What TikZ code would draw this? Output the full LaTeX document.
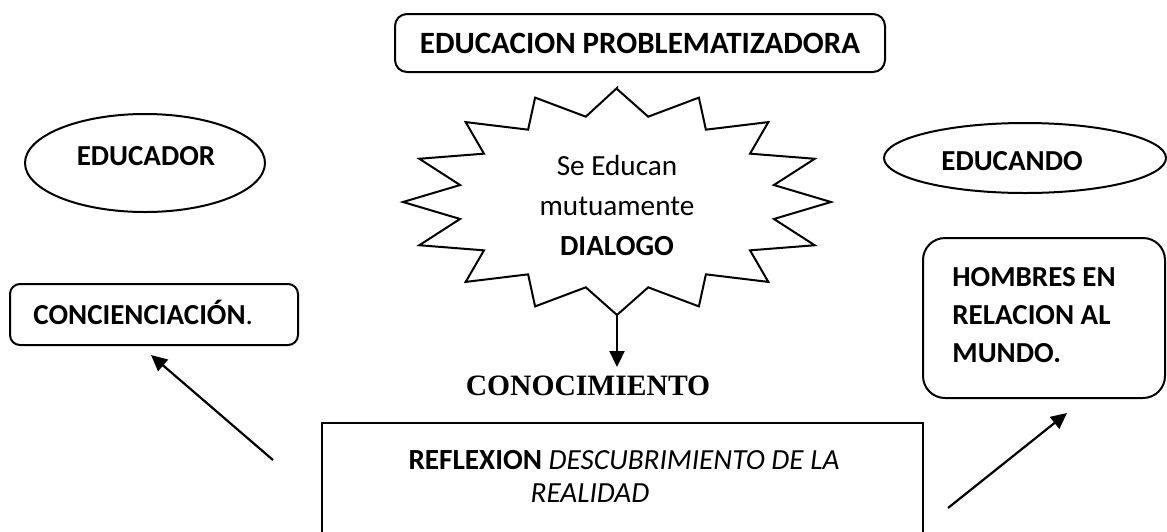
\documentclass[tikz,border=0pt]{standalone}
\usepackage{fontspec}
\setmainfont{Carlito}
\newfontfamily\timesfont{Liberation Serif}
\usetikzlibrary{shapes.geometric,arrows.meta}

\tikzset{
  linea/.style={line width=1pt},
  caja/.style={draw, line width=1pt, rounded corners=#1},
  caja/.default=6pt,
  elipse/.style={draw, ellipse, line width=1pt, inner sep=0pt},
  flecha/.style={line width=1.1pt, -{Triangle[length=8pt,width=7.5pt]}},
  texto/.style={font=\fontsize{14.6}{20}\selectfont, inner sep=0pt},
  negrita/.style={font=\fontsize{14.5}{19}\selectfont\bfseries, inner sep=0pt},
}

\begin{document}
\begin{tikzpicture}[x=0.5pt,y=-0.5pt]
  % Marco
  \useasboundingbox (0,0) rectangle (1167,531);
  % Titulo
  \node[caja, negrita, font=\fontsize{15.5}{19}\selectfont\bfseries, minimum width=245pt, minimum height=29pt] (titulo) at (640,43) {EDUCACION PROBLEMATIZADORA};
  % Estrella
  \coordinate (estrella) at (617,202);
  \draw[linea] (617,88)
    \foreach \k in {0,...,15} {
      -- ({617+160*cos(101.25+22.5*\k)},{202-87*sin(101.25+22.5*\k)})
      -- ({617+214*cos(112.5+22.5*\k)},{202-113*sin(112.5+22.5*\k)})
    } -- cycle;
  \coordinate (punta) at (617,315);
  \node[texto, align=center, anchor=south] (dialogo) at (617,256) {Se Educan\\mutuamente\\\textbf{DIALOGO}};
  % Conocimiento
  \node[font=\timesfont\bfseries\fontsize{14.8}{18}\selectfont, inner sep=0pt, anchor=base] (conocimiento) at (588,395) {CONOCIMIENTO};
  \coordinate (llegada) at (617,367);
  \draw[flecha] (punta) -- (llegada);
  % Elipses
  \node[elipse, minimum width=120pt, minimum height=49pt] (educador) at (145,163) {};
  \node[negrita, anchor=base] (educadortxt) at (146,165) {EDUCADOR};
  \node[elipse, minimum width=141pt, minimum height=35pt] (educando) at (1025,158) {};
  \node[negrita, anchor=base] (educandotxt) at (1012,170) {EDUCANDO};
  % Cajas laterales
  \node[caja=5pt, minimum width=144pt, minimum height=30.5pt] (conciencia) at (154,314.5) {};
  \node[negrita, anchor=base west] (concienciatxt) at (33,324) {CONCIENCIACIÓN\textmd{.}};
  \node[caja=11pt, minimum width=121pt, minimum height=80pt] (hombres) at (1044,318) {};
  \node[negrita, align=left, anchor=south west] (hombrestxt) at (952,363) {HOMBRES EN\\RELACION AL\\MUNDO.};
  % Reflexion
  \node[draw, linea, minimum width=300.5pt, minimum height=61pt] (reflexion) at (622.5,484) {};
  \node[texto, align=center, anchor=south, font=\fontsize{14.6}{16.5}\selectfont] (reflexiontxt) at (624,503) {\textbf{REFLEXION} \textit{DESCUBRIMIENTO DE LA}\\\textit{REALIDAD}\hspace*{34pt}};
  % Flechas
  \coordinate (izq) at (273,460);
  \coordinate (izqfin) at (151,355);
  \draw[flecha] (izq) -- (izqfin);
  \coordinate (der) at (948,508);
  \coordinate (derfin) at (1067,413);
  \draw[flecha] (der) -- (derfin);
\end{tikzpicture}
\end{document}
